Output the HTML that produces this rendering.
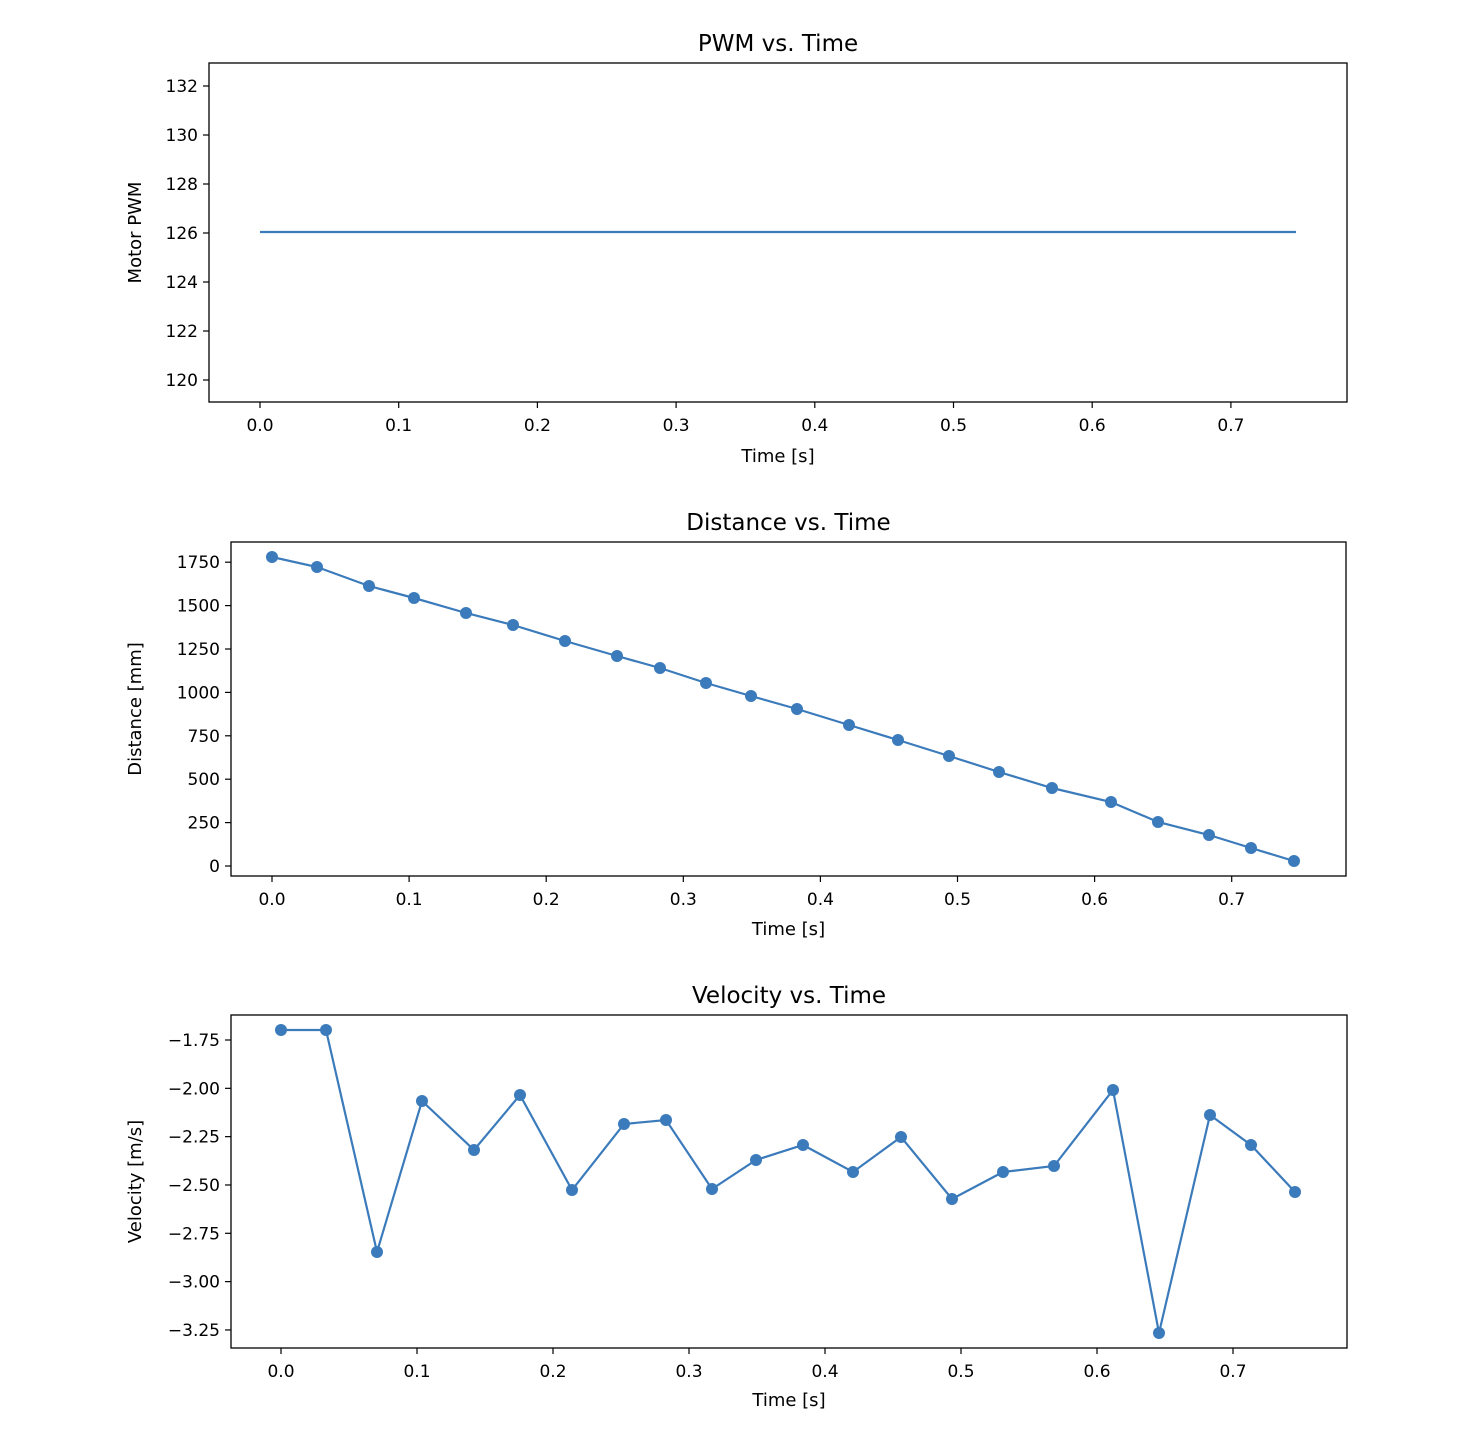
<!DOCTYPE html>
<html><head><meta charset="utf-8"><style>
html,body{margin:0;padding:0;background:#fff;}
svg text{font-family:"DejaVu Sans","Liberation Sans",sans-serif;fill:#000;}
</style></head><body>
<svg id="s" width="1458" height="1444" xmlns="http://www.w3.org/2000/svg"></svg>
<script>
const s=document.getElementById('s');let h='';
const C='#3b7bbb';
function axes(L,T,R,B,title,ylab,xt,yt,xlabY){
 h+=`<rect x="${L}" y="${T}" width="${R-L}" height="${B-T}" fill="none" stroke="#000" stroke-width="1.3"/>`;
 h+=`<text x="${(L+R)/2}" y="${T-12}" font-size="23" text-anchor="middle">${title}</text>`;
 xt.forEach(([x,l])=>{h+=`<line x1="${x}" y1="${B}" x2="${x}" y2="${B+6}" stroke="#000" stroke-width="1.2"/><text x="${x}" y="${B+29}" font-size="17" text-anchor="middle">${l}</text>`;});
 yt.forEach(([y,l])=>{h+=`<line x1="${L-6}" y1="${y}" x2="${L}" y2="${y}" stroke="#000" stroke-width="1.2"/><text x="${L-11}" y="${y+6}" font-size="17" text-anchor="end">${l}</text>`;});
 h+=`<text x="${(L+R)/2}" y="${xlabY}" font-size="18" text-anchor="middle">Time [s]</text>`;
 h+=`<text transform="translate(141,${(T+B)/2}) rotate(-90)" font-size="18" text-anchor="middle">${ylab}</text>`;
}
const xl=['0.0','0.1','0.2','0.3','0.4','0.5','0.6','0.7'];
// plot 1
axes(209,63,1347,402,'PWM vs. Time','Motor PWM',xl.map((l,i)=>[260+i*138.7,l]),[120,122,124,126,128,130,132].map(v=>[380-(v-120)*24.5,v]),462);
h+=`<line x1="260" y1="232" x2="1296" y2="232" stroke="${C}" stroke-width="2.2"/>`;
// plot 2
axes(231,542,1346,876,'Distance vs. Time','Distance [mm]',xl.map((l,i)=>[272+i*137.1,l]),[0,250,500,750,1000,1250,1500,1750].map(v=>[866-v/250*43.4,v]),935);
const p2=[[272,557],[317,567],[369,586],[414,598],[466,613],[513,625],[565,641],[617,656],[660,668],[706,683],[751,696],[797,709],[849,725],[898,740],[949,756],[999,772],[1052,788],[1111,802],[1158,822],[1209,835],[1251,848],[1294,861]];
// plot 3
axes(231,1015,1347,1348,'Velocity vs. Time','Velocity [m/s]',xl.map((l,i)=>[281+i*136,l]),[-1.75,-2.0,-2.25,-2.5,-2.75,-3.0,-3.25].map(v=>[1040+(-1.75-v)*193.3,'−'+(-v).toFixed(2)]),1406);
const p3=[[281,1030],[326,1030],[377,1252],[422,1101],[474,1150],[520,1095],[572,1190],[624,1124],[666,1120],[712,1189],[756,1160],[803,1145],[853,1172],[901,1137],[952,1199],[1003,1172],[1054,1166],[1113,1090],[1159,1333],[1210,1115],[1251,1145],[1295,1192]];
[p2,p3].forEach(p=>{h+=`<polyline points="${p.map(q=>q.join(',')).join(' ')}" fill="none" stroke="${C}" stroke-width="2.2"/>`;p.forEach(q=>h+=`<circle cx="${q[0]}" cy="${q[1]}" r="6" fill="${C}"/>`);});
s.innerHTML=h;
</script>
</body></html>
